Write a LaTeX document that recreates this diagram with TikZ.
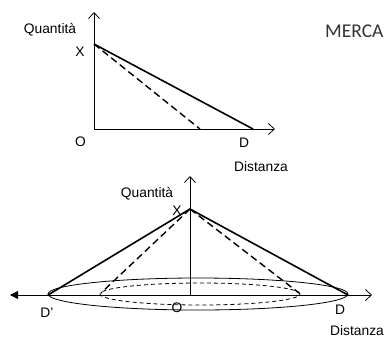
\documentclass[tikz,border=0pt]{standalone}
\usepackage{fontspec}
\setmainfont{Liberation Sans}
\newfontfamily\titlefont{Carlito}
\usetikzlibrary{arrows.meta}
\tikzset{
  axis/.style={line width=0.8pt, -{Straight Barb[length=6pt,width=11pt,line width=0.8pt]}},
  axisfill/.style={line width=0.8pt, -{Triangle[length=8pt,width=8pt]}},
  solidline/.style={line width=1.6pt},
  dashline/.style={line width=1.4pt, dash pattern=on 7pt off 4pt},
  thinellipse/.style={line width=0.8pt},
  dashellipse/.style={line width=0.8pt, dash pattern=on 4pt off 3pt},
  lbl/.style={inner sep=0pt, font=\fontsize{13.8}{16}\selectfont},
}
\begin{document}
\begin{tikzpicture}[x=1pt,y=-1pt]
\useasboundingbox (0,0) rectangle (385,338);
% ---- top diagram ----
\coordinate (O1) at (94,129);
\coordinate (Y1) at (94,12);
\coordinate (H1) at (275,129);
\coordinate (X1) at (94,44);
\coordinate (D1) at (253,129);
\coordinate (E1) at (200,129);
\draw[axis] (O1) -- (Y1);
\draw[axis] (O1) -- (H1);
\draw[solidline] (X1) -- (D1);
\draw[dashline] (X1) -- (E1);
\node[lbl] (q1) at (50,30) {Quantità};
\node[lbl] (x1) at (80,52) {X};
\node[lbl] (o1) at (80.5,142) {O};
\node[lbl] (d1) at (244,143) {D};
\node[lbl] (dist1) at (261,167) {Distanza};
\node[inner sep=0pt, anchor=west, text=black!80, font=\titlefont\fontsize{19.5}{22}\selectfont] (title) at (325,31) {MERCA};
% ---- bottom diagram ----
\coordinate (O2) at (190,295);
\coordinate (Y2) at (190,176);
\coordinate (L2) at (10,295);
\coordinate (R2) at (372,295);
\coordinate (X2) at (190,209);
\coordinate (Dl) at (48,295);
\coordinate (Dr) at (348,295);
\coordinate (El) at (101,293);
\coordinate (Er) at (299,293);
\coordinate (C2) at (198,294);
\coordinate (C3) at (200,294);
\draw[axis] (O2) -- (Y2);
\draw[axisfill] (O2) -- (L2);
\draw[axis] (O2) -- (R2);
\draw[thinellipse] (C2) ellipse [x radius=150pt, y radius=16pt];
\draw[dashellipse] (C3) ellipse [x radius=100pt, y radius=11pt];
\draw[solidline] (Dl) -- (X2) -- (Dr);
\draw[dashline] (X2) -- (El);
\draw[dashline] (X2) -- (Er);
\node[lbl] (q2) at (147,194) {Quantità};
\node[lbl] (x2) at (177,211) {X};
\node[lbl] (dp) at (47,313) {D'};
\node[lbl] (o2) at (177,308) {O};
\node[lbl] (d2) at (340,310) {D};
\node[lbl] (dist2) at (357,331) {Distanza};
\end{tikzpicture}
\end{document}
